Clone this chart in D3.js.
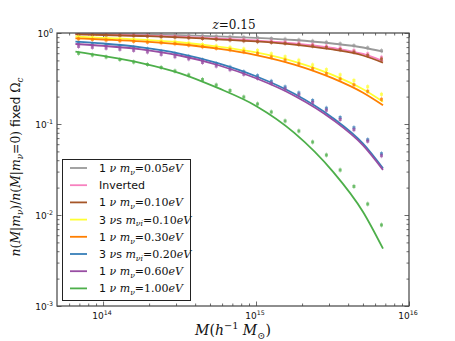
<html>
<head>
<script src="https://d3js.org/d3.v7.min.js"></script>
<style>
  body { margin: 0; background: #fff; }
  svg { display: block; }
</style>
</head>
<body>
<svg id="svg" width="455" height="341"></svg>
<script>
// halo mass (h^-1 Msun) for the model curves and for the simulation points
var massLine = [6.6e13, 1e14, 1.78e14, 3.16e14, 5.62e14, 1e15, 1.78e15, 3.16e15, 5.01e15, 6.76e15];
var massPts = [6.92e13, 8.51e13, 1.047e14, 1.288e14, 1.585e14, 1.95e14, 2.399e14, 2.951e14, 3.631e14, 4.467e14,
               5.495e14, 6.761e14, 8.318e14, 1.023e15, 1.259e15, 1.549e15, 1.905e15, 2.344e15, 2.884e15,
               3.548e15, 4.365e15, 5.37e15, 6.607e15];

// ratio n(M|m_nu)/n(M|m_nu=0), model curves
var lineGray   = [0.985, 0.975, 0.963, 0.946, 0.920, 0.886, 0.838, 0.767, 0.693, 0.623];
var linePink   = [0.975, 0.960, 0.939, 0.911, 0.870, 0.827, 0.771, 0.684, 0.588, 0.492];
var lineBrown  = [0.968, 0.951, 0.927, 0.897, 0.853, 0.808, 0.747, 0.659, 0.566, 0.472];
var lineYellow = [0.915, 0.886, 0.846, 0.791, 0.710, 0.612, 0.486, 0.347, 0.241, 0.176];
var lineOrange = [0.875, 0.848, 0.808, 0.752, 0.674, 0.573, 0.450, 0.319, 0.2206, 0.161];
var lineBlue   = [0.802, 0.767, 0.695, 0.595, 0.467, 0.3345, 0.2148, 0.1173, 0.0607, 0.0325];
var linePurple = [0.757, 0.723, 0.661, 0.566, 0.445, 0.318, 0.2046, 0.112, 0.0581, 0.0313];
var lineGreen  = [0.623, 0.559, 0.468, 0.363, 0.249, 0.158, 0.080, 0.0304, 0.0108, 0.00427];

// simulation points
var ptsGray   = [0.985,0.980,0.975,0.970,0.965,0.960,0.953,0.948,0.939,0.929,0.920,0.908,0.897,0.884,0.870,0.855,0.838,0.813,0.790,0.761,0.727,0.688,0.639];
var ptsPink   = [0.972,0.965,0.958,0.951,0.943,0.934,0.925,0.915,0.901,0.886,0.872,0.857,0.842,0.825,0.811,0.794,0.774,0.747,0.720,0.684,0.644,0.592,0.541];
var ptsBrown  = [0.965,0.958,0.948,0.941,0.932,0.922,0.911,0.901,0.886,0.870,0.855,0.838,0.821,0.804,0.788,0.770,0.749,0.721,0.693,0.657,0.617,0.567,0.517];
var ptsYellow = [0.901,0.888,0.875,0.861,0.848,0.834,0.823,0.802,0.776,0.747,0.720,0.696,0.667,0.644,0.591,0.549,0.502,0.446,0.396,0.347,0.3013,0.2570,0.2120];
var ptsOrange = [0.861,0.848,0.836,0.821,0.809,0.792,0.782,0.763,0.736,0.707,0.679,0.654,0.623,0.597,0.545,0.504,0.4586,0.4053,0.3579,0.3123,0.2696,0.2288,0.1868];
var ptsBlue   = [0.769,0.751,0.734,0.714,0.695,0.667,0.628,0.592,0.553,0.505,0.461,0.421,0.375,0.3395,0.2945,0.2557,0.2197,0.1813,0.1491,0.1179,0.0911,0.0672,0.0472];
var ptsPurple = [0.712,0.696,0.681,0.662,0.644,0.618,0.582,0.549,0.519,0.474,0.433,0.395,0.3516,0.3187,0.2801,0.2430,0.2088,0.1723,0.1418,0.1121,0.0866,0.0647,0.0448];
var ptsGreen  = [0.598,0.573,0.545,0.511,0.480,0.451,0.418,0.382,0.3455,0.308,0.268,0.233,0.198,0.166,0.1355,0.108,0.0838,0.0634,0.0456,0.0312,0.0206,0.0132,0.00777];

var xTickExp = [14, 15, 16];
var yTickExp = [0, -1, -2, -3];

// legend rows: [number, "nu" plural suffix, mass subscript, value]
var series = [
  {c: "#999999", line: lineGray,   pts: ptsGray,   lab: ["1", "", "ν", "0.05"]},
  {c: "#f781bf", line: linePink,   pts: ptsPink,   lab: null},
  {c: "#a65628", line: lineBrown,  pts: ptsBrown,  lab: ["1", "", "ν", "0.10"]},
  {c: "#ffff33", line: lineYellow, pts: ptsYellow, lab: ["3", "s", "νi", "0.10"]},
  {c: "#ff7f00", line: lineOrange, pts: ptsOrange, lab: ["1", "", "ν", "0.30"]},
  {c: "#377eb8", line: lineBlue,   pts: ptsBlue,   lab: ["3", "s", "νi", "0.20"]},
  {c: "#984ea3", line: linePurple, pts: ptsPurple, lab: ["1", "", "ν", "0.60"]},
  {c: "#4daf4a", line: lineGreen,  pts: ptsGreen,  lab: ["1", "", "ν", "1.00"]}
];

var svg = d3.select("svg");
var L = 57, R = 409, T = 33, B = 306;
var SANS = "DejaVu Sans", SERIF = "DejaVu Serif";

var x = d3.scaleLog().domain([5e13, 1e16]).range([L, R]);
var y = d3.scaleLog().domain([1e-3, 1]).range([B, T]);

// minor tick values
var xMinor = [], yMinor = [];
[13, 14, 15].forEach(function(e){ for (var k = 2; k < 10; k++){ var v = k*Math.pow(10, e); if (v > 5e13 && v < 1e16) xMinor.push(v); } });
[-3, -2, -1].forEach(function(e){ for (var k = 2; k < 10; k++) yMinor.push(k*Math.pow(10, e)); });
var xMajor = xTickExp.map(function(e){ return Math.pow(10, e); });
var yMajor = yTickExp.map(function(e){ return Math.pow(10, e); });

function ticks(axisFn, scale, vals, size, tx){
  var g = svg.append("g").attr("transform", tx)
    .call(axisFn(scale).tickValues(vals).tickSize(size).tickFormat(""));
  g.select(".domain").remove();
  g.selectAll("line").attr("stroke", "#444").attr("stroke-width", 0.8);
}
ticks(d3.axisBottom, x, xMajor, -4.5, "translate(0," + B + ")");
ticks(d3.axisBottom, x, xMinor, -2.5, "translate(0," + B + ")");
ticks(d3.axisTop, x, xMajor, -4.5, "translate(0," + T + ")");
ticks(d3.axisTop, x, xMinor, -2.5, "translate(0," + T + ")");
ticks(d3.axisLeft, y, yMajor, -4.5, "translate(" + L + ",0)");
ticks(d3.axisLeft, y, yMinor, -2.5, "translate(" + L + ",0)");
ticks(d3.axisRight, y, yMajor, -4.5, "translate(" + R + ",0)");
ticks(d3.axisRight, y, yMinor, -2.5, "translate(" + R + ",0)");

// curves + points
svg.append("clipPath").attr("id", "clip").append("rect")
  .attr("x", L).attr("y", T).attr("width", R - L).attr("height", B - T);
var plot = svg.append("g").attr("clip-path", "url(#clip)");
var line = d3.line().curve(d3.curveMonotoneX)
  .x(function(d, i){ return x(massLine[i]); })
  .y(function(d){ return y(d); });

series.forEach(function(s){
  plot.append("path").attr("d", line(s.line))
    .attr("fill", "none").attr("stroke", s.c).attr("stroke-width", 1.8);
  var g = plot.append("g");
  g.selectAll("line").data(s.pts).enter().append("line")
    .attr("x1", function(d, i){ return x(massPts[i]); })
    .attr("x2", function(d, i){ return x(massPts[i]); })
    .attr("y1", function(d){ return y(d) - 2.5; })
    .attr("y2", function(d){ return y(d) + 2.5; })
    .attr("stroke", s.c).attr("stroke-width", 0.8).attr("opacity", 0.6);
  g.selectAll("rect").data(s.pts).enter().append("rect")
    .attr("x", function(d, i){ return x(massPts[i]) - 1.5; })
    .attr("y", function(d){ return y(d) - 1.5; })
    .attr("width", 3).attr("height", 3)
    .attr("fill", s.c).attr("opacity", 0.75);
});

// frame
svg.append("rect").attr("x", L).attr("y", T).attr("width", R - L).attr("height", B - T)
  .attr("fill", "none").attr("stroke", "#444").attr("stroke-width", 1.2);

// rich text helper: segments {t, f: "it"|"rm"|"sf", s: "sub"|"sup"}
function rich(sel, segs, size){
  var cur = 0;
  segs.forEach(function(p){
    var shift = p.s === "sub" ? size*0.25 : p.s === "sup" ? -size*0.4 : 0;
    var ts = sel.append("tspan").text(p.t)
      .attr("font-family", p.f === "sf" ? SANS : SERIF)
      .attr("font-style", p.f === "it" ? "italic" : "normal")
      .attr("font-size", p.s ? size*0.7 : size);
    if (shift !== cur) { ts.attr("dy", shift - cur); cur = shift; }
  });
  return sel;
}

// tick labels
xTickExp.forEach(function(e){
  var t = svg.append("text").attr("x", x(Math.pow(10, e)) - 1).attr("y", 319)
    .attr("text-anchor", "middle").attr("fill", "#111");
  rich(t, [{t: "10", f: "sf"}, {t: String(e), f: "sf", s: "sup"}], 9);
});
yTickExp.forEach(function(e){
  var t = svg.append("text").attr("x", 53).attr("y", y(Math.pow(10, e)) + 3.5)
    .attr("text-anchor", "end").attr("fill", "#111");
  var lab = e < 0 ? "-" + (-e) : String(e);
  rich(t, [{t: "10", f: "sf"}, {t: lab, f: "sf", s: "sup"}], 9);
});

// title
rich(svg.append("text").attr("x", 234).attr("y", 29).attr("text-anchor", "middle").attr("fill", "#111"),
  [{t: "z", f: "it"}, {t: "=0.15", f: "rm"}], 12);

// x label
rich(svg.append("text").attr("x", 233).attr("y", 335).attr("text-anchor", "middle").attr("fill", "#111"),
  [{t: "M", f: "it"}, {t: "(", f: "rm"}, {t: "h", f: "it"}, {t: "−1", f: "rm", s: "sup"},
   {t: " M", f: "it"}, {t: "⊙", f: "rm", s: "sub"}, {t: ")", f: "rm"}], 14);

// y label
rich(svg.append("text").attr("transform", "translate(20,167) rotate(-90)")
    .attr("text-anchor", "middle").attr("fill", "#111"),
  [{t: "n", f: "it"}, {t: "(", f: "rm"}, {t: "M", f: "it"}, {t: "|", f: "rm"}, {t: "m", f: "it"},
   {t: "ν", f: "it", s: "sub"}, {t: ")/", f: "rm"}, {t: "n", f: "it"}, {t: "(", f: "rm"},
   {t: "M", f: "it"}, {t: "|", f: "rm"}, {t: "m", f: "it"}, {t: "ν", f: "it", s: "sub"},
   {t: "=0) ", f: "rm"}, {t: "fixed ", f: "sf"}, {t: "Ω", f: "rm"}, {t: "c", f: "it", s: "sub"}], 12.4);

// legend
var lg = svg.append("g");
lg.append("rect").attr("x", 62.5).attr("y", 159.5).attr("width", 128).attr("height", 141)
  .attr("fill", "#fff").attr("stroke", "#222").attr("stroke-width", 1);
series.forEach(function(s, i){
  var ry = 168 + i*17.2;
  lg.append("line").attr("x1", 70).attr("x2", 87).attr("y1", ry).attr("y2", ry)
    .attr("stroke", s.c).attr("stroke-width", 1.8);
  var t = lg.append("text").attr("x", 99).attr("y", ry + 4).attr("fill", "#111");
  if (!s.lab) { rich(t, [{t: "Inverted", f: "sf"}], 11); return; }
  var segs = [{t: s.lab[0] + " ", f: "sf"}, {t: "ν", f: "it"}];
  if (s.lab[1]) segs.push({t: s.lab[1], f: "sf"});
  segs.push({t: " m", f: "it"}, {t: s.lab[2], f: "it", s: "sub"},
            {t: "=" + s.lab[3], f: "rm"}, {t: "eV", f: "it"});
  rich(t, segs, 11);
});
</script>
</body>
</html>
